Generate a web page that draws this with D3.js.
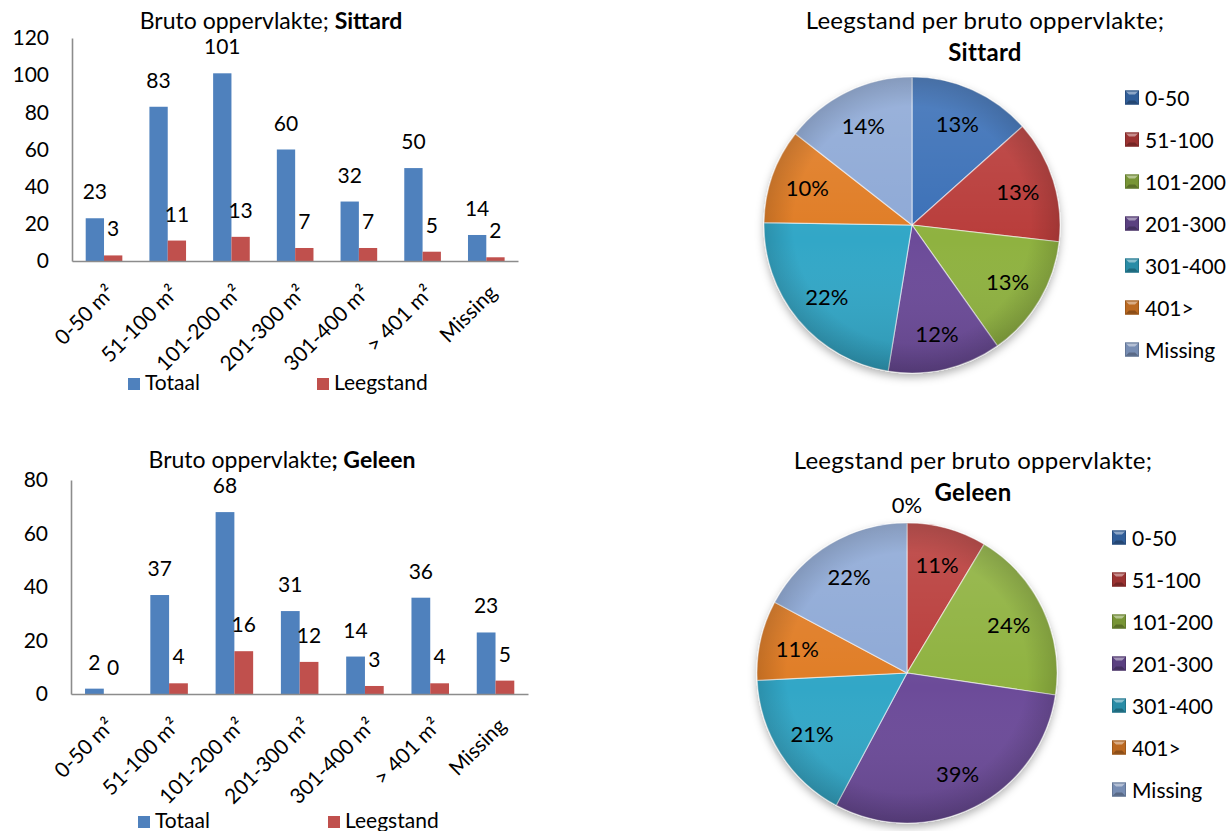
<!DOCTYPE html>
<html>
<head>
<meta charset="utf-8">
<script src="https://cdn.jsdelivr.net/npm/d3@7"></script>
<style>
  html, body { margin: 0; padding: 0; background: #ffffff; }
  svg { display: block; font-family: Lato, "Open Sans", "DejaVu Sans", sans-serif; }
</style>
</head>
<body>
<svg id="chart" width="1232" height="831"></svg>
<script>
// Size classes (m²) used on the bar charts
const categories = ["0-50 m²", "51-100 m²", "101-200 m²", "201-300 m²", "301-400 m²", "> 401 m²", "Missing"];
const seriesNames = ["Totaal", "Leegstand"];

// Sittard: total premises and vacant premises per size class
const sittardTotaal = [23, 83, 101, 60, 32, 50, 14];
const sittardLeegstand = [3, 11, 13, 7, 7, 5, 2];

// Geleen: total premises and vacant premises per size class
const geleenTotaal = [2, 37, 68, 31, 14, 36, 23];
const geleenLeegstand = [0, 4, 16, 12, 3, 4, 5];

// Pie charts: vacancy rate (%) per size class
const pieCategories = ["0-50", "51-100", "101-200", "201-300", "301-400", "401>", "Missing"];
const sittardVacancyPct = [13, 13, 13, 12, 22, 10, 14];
const geleenVacancyPct = [0, 11, 24, 39, 21, 11, 22];

// Axis ticks
const sittardTicks = [0, 20, 40, 60, 80, 100, 120];
const geleenTicks = [0, 20, 40, 60, 80];

const barColors = { "Totaal": "#4f81bd", "Leegstand": "#c0504d" };
const pieColors = ["#3b70b7", "#b93c3a", "#8fb241", "#6c4c99", "#31a7c7", "#e07d27", "#8ea9d6"];

const svg = d3.select("#chart");
const defs = svg.append("defs");

// soft drop shadow under the pies
const shadow = defs.append("filter").attr("id", "pieShadow")
  .attr("x", "-20%").attr("y", "-20%").attr("width", "140%").attr("height", "140%");
shadow.append("feDropShadow").attr("dx", 0).attr("dy", 4).attr("stdDeviation", 4)
  .attr("flood-color", "#000").attr("flood-opacity", 0.3);

// light-from-above shading laid over the pies
const shade = defs.append("linearGradient").attr("id", "pieShade")
  .attr("x1", 0).attr("y1", 0).attr("x2", 0).attr("y2", 1);
shade.append("stop").attr("offset", "0%").attr("stop-color", "#fff").attr("stop-opacity", 0.12);
shade.append("stop").attr("offset", "55%").attr("stop-color", "#fff").attr("stop-opacity", 0);
shade.append("stop").attr("offset", "100%").attr("stop-color", "#000").attr("stop-opacity", 0.12);

const rim = defs.append("radialGradient").attr("id", "pieRim");
rim.append("stop").attr("offset", "80%").attr("stop-color", "#000").attr("stop-opacity", 0);
rim.append("stop").attr("offset", "100%").attr("stop-color", "#000").attr("stop-opacity", 0.14);

function drawBarChart(cfg) {
  const g = svg.append("g");
  const data = categories.map((c, i) => ({ cat: c, Totaal: cfg.totaal[i], Leegstand: cfg.leegstand[i] }));

  const x0 = d3.scaleBand().domain(categories).range([cfg.left, cfg.right]);
  const bw = x0.bandwidth();
  const x1 = d3.scaleBand().domain(seriesNames).range([bw * 0.215, bw * 0.79]);
  const y = d3.scaleLinear().domain([0, cfg.max]).range([cfg.bottom, cfg.top]);

  // title
  const t = g.append("text").attr("x", cfg.titleX).attr("y", cfg.titleY)
    .attr("text-anchor", "middle").attr("font-size", 23).attr("fill", "#000");
  t.append("tspan").text("Bruto oppervlakte");
  t.append("tspan").attr("font-weight", cfg.boldSemicolon ? "bold" : "normal").text("; ");
  t.append("tspan").attr("font-weight", "bold").text(cfg.place);

  // y axis
  const yAxis = g.append("g").attr("transform", `translate(${cfg.left},0)`)
    .call(d3.axisLeft(y).tickValues(cfg.ticks).tickSize(0).tickPadding(23));
  yAxis.select(".domain").attr("stroke", "#8c8c8c").attr("stroke-width", 1.6);
  yAxis.selectAll("text").attr("font-size", 21).attr("fill", "#000")
    .attr("font-family", "Lato, 'Open Sans', sans-serif");

  // bars
  const groups = g.selectAll(".grp").data(data).join("g")
    .attr("transform", d => `translate(${x0(d.cat)},0)`);
  groups.selectAll("rect").data(d => seriesNames.map(s => ({ s, v: d[s] }))).join("rect")
    .attr("x", d => x1(d.s)).attr("width", x1.bandwidth())
    .attr("y", d => y(d.v)).attr("height", d => cfg.bottom - y(d.v))
    .attr("fill", d => barColors[d.s]);
  groups.selectAll("text").data(d => seriesNames.map(s => ({ s, v: d[s] }))).join("text")
    .attr("x", d => x1(d.s) + x1.bandwidth() / 2)
    .attr("y", d => y(d.v) - 19)
    .attr("text-anchor", "middle").attr("font-size", 21).attr("fill", "#000")
    .text(d => d.v);

  // x axis
  const xAxis = g.append("g").attr("transform", `translate(0,${cfg.bottom})`)
    .call(d3.axisBottom(x0).tickSize(0).tickFormat(""));
  xAxis.select(".domain").attr("stroke", "#8c8c8c").attr("stroke-width", 1.6);
  g.selectAll(".xl").data(categories).join("text")
    .attr("transform", d => `translate(${x0(d) + bw / 2 + 12},${cfg.bottom + 33}) rotate(-45)`)
    .attr("text-anchor", "end").attr("font-size", 21).attr("fill", "#000")
    .text(d => d);

  // legend
  const lg = g.selectAll(".lg").data(seriesNames).join("g")
    .attr("transform", (d, i) => `translate(${cfg.legendX[i]},${cfg.legendY})`);
  lg.append("rect").attr("x", 0).attr("y", -12).attr("width", 12).attr("height", 12)
    .attr("fill", d => barColors[d]);
  lg.append("text").attr("x", 17).attr("y", 0).attr("font-size", 21).attr("fill", "#000").text(d => d);
}

function drawPie(cfg) {
  const g = svg.append("g");
  const t = g.append("text").attr("text-anchor", "middle").attr("font-size", 24)
    .attr("letter-spacing", 0.3).attr("fill", "#000");
  t.append("tspan").attr("x", cfg.titleX).attr("y", cfg.titleY).text("Leegstand per bruto oppervlakte;");
  t.append("tspan").attr("x", cfg.titleX).attr("y", cfg.titleY + 32).attr("font-weight", "bold").text(cfg.place);

  const data = pieCategories.map((c, i) => ({ cat: c, v: cfg.values[i], i }));
  const pie = d3.pie().sort(null).value(d => d.v);
  const arcs = pie(data);
  const arc = d3.arc().innerRadius(0).outerRadius(cfg.r);
  const labelArc = d3.arc().innerRadius(cfg.r * 0.75).outerRadius(cfg.r * 0.75);

  const pg = g.append("g").attr("transform", `translate(${cfg.cx},${cfg.cy})`);
  const body = pg.append("g").attr("filter", "url(#pieShadow)");
  body.selectAll("path").data(arcs).join("path")
    .attr("d", arc).attr("fill", d => pieColors[d.data.i])
    .attr("stroke", "rgba(255,255,255,0.55)").attr("stroke-width", 1.2);
  pg.append("circle").attr("r", cfg.r).attr("fill", "url(#pieShade)").attr("pointer-events", "none");
  pg.append("circle").attr("r", cfg.r).attr("fill", "url(#pieRim)").attr("pointer-events", "none");

  pg.selectAll(".pl").data(arcs).join("text")
    .attr("transform", d => {
      if (d.data.v === 0) {
        const a = d.startAngle;
        const rr = cfg.r + 19;
        return `translate(${Math.sin(a) * rr},${-Math.cos(a) * rr})`;
      }
      return `translate(${labelArc.centroid(d)})`;
    })
    .attr("text-anchor", "middle").attr("dominant-baseline", "central")
    .attr("font-size", 22).attr("fill", "#000")
    .text(d => d.data.v + "%");

  // legend with bevelled swatches
  const lg = g.selectAll(".lg").data(data).join("g")
    .attr("transform", (d, i) => `translate(${cfg.legendX},${cfg.legendY + i * 42})`);
  lg.append("rect").attr("x", 0).attr("y", -7).attr("width", 14).attr("height", 14)
    .attr("fill", d => d3.color(pieColors[d.i]).darker(0.5));
  lg.append("path").attr("d", "M0,-7 L14,-7 L10,-3 L4,-3 Z").attr("fill", "rgba(255,255,255,0.45)");
  lg.append("path").attr("d", "M0,7 L14,7 L10,3 L4,3 Z").attr("fill", "rgba(0,0,0,0.25)");
  lg.append("rect").attr("x", 0.5).attr("y", -6.5).attr("width", 13).attr("height", 13)
    .attr("fill", "none").attr("stroke", d => d3.color(pieColors[d.i]).darker(1)).attr("stroke-width", 1);
  lg.append("text").attr("x", 20).attr("y", 0).attr("dominant-baseline", "central")
    .attr("font-size", 21).attr("fill", "#000").text(d => d.cat);
}

drawBarChart({
  place: "Sittard", totaal: sittardTotaal, leegstand: sittardLeegstand,
  left: 72, right: 518, top: 38, bottom: 261, max: 120, ticks: sittardTicks,
  titleX: 271, titleY: 29, boldSemicolon: false,
  legendX: [128, 317], legendY: 390
});
drawBarChart({
  place: "Geleen", totaal: geleenTotaal, leegstand: geleenLeegstand,
  left: 71, right: 528, top: 480, bottom: 694, max: 80, ticks: geleenTicks,
  titleX: 282, titleY: 468, boldSemicolon: true,
  legendX: [138, 328], legendY: 828
});
drawPie({
  place: "Sittard", values: sittardVacancyPct,
  cx: 912, cy: 225, r: 148, titleX: 985, titleY: 29,
  legendX: 1125, legendY: 97.5
});
drawPie({
  place: "Geleen", values: geleenVacancyPct,
  cx: 907, cy: 673, r: 150, titleX: 973, titleY: 469,
  legendX: 1112, legendY: 537.5
});
</script>
</body>
</html>
